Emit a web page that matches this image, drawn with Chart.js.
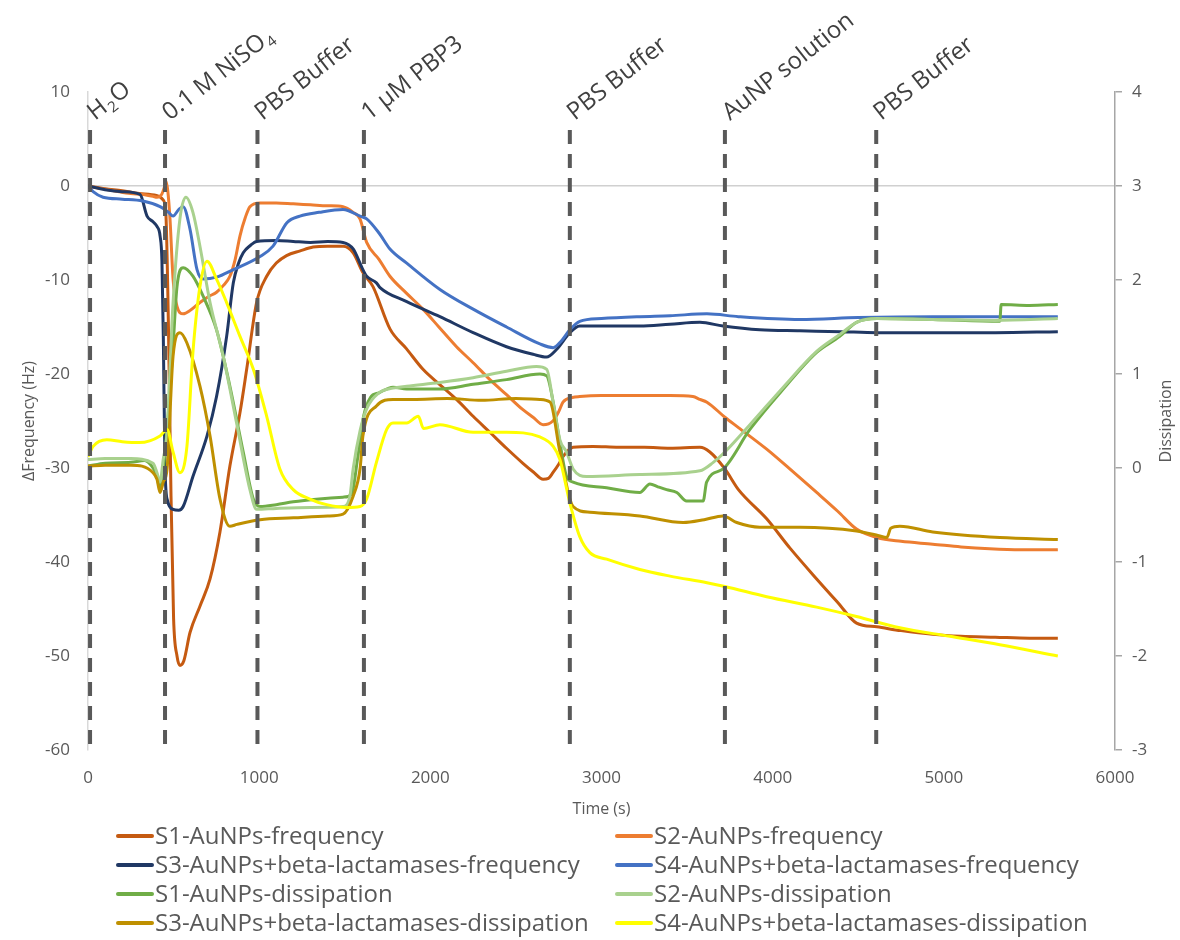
<!DOCTYPE html>
<html>
<head>
<meta charset="utf-8">
<script src="https://cdn.jsdelivr.net/npm/chart.js@4.4.1/dist/chart.umd.min.js"></script>
<style>
  html, body { margin: 0; padding: 0; background: #ffffff; }
  canvas { display: block; }
</style>
</head>
<body>
<canvas id="qcm" width="1180" height="940"></canvas>
<script>
// ---- Series names and colours (legend order) ----
const seriesNames = [
  'S1-AuNPs-frequency',
  'S2-AuNPs-frequency',
  'S3-AuNPs+beta-lactamases-frequency',
  'S4-AuNPs+beta-lactamases-frequency',
  'S1-AuNPs-dissipation',
  'S2-AuNPs-dissipation',
  'S3-AuNPs+beta-lactamases-dissipation',
  'S4-AuNPs+beta-lactamases-dissipation'
];
const seriesColors = ['#C55A11', '#ED7D31', '#203864', '#4472C4', '#70AD47', '#A9D18E', '#BF9000', '#FFFF00'];
const seriesAxis = ['y', 'y', 'y', 'y', 'y2', 'y2', 'y2', 'y2'];

// ---- Injection events (time in s) ----
const eventTimes = [12, 450, 990, 1612, 2815, 3721, 4605];
const eventLabels = ['H₂O', '0.1 M NiSO₄', 'PBS Buffer', '1 µM PBP3', 'PBS Buffer', 'AuNP solution', 'PBS Buffer'];

// ---- Axis ticks ----
const timeTicks = [0, 1000, 2000, 3000, 4000, 5000, 6000];
const freqTicks = [-60, -50, -40, -30, -20, -10, 0, 10];
const dissTicks = [-3, -2, -1, 0, 1, 2, 3, 4];

// ---- S1 frequency (Hz) ----
const s1FreqT = [0, 100, 200, 300, 400, 440, 455, 470, 485, 500, 520, 537, 560, 596, 654, 713, 771, 829, 888, 927, 985, 1044, 1100, 1160, 1240, 1315, 1400, 1490, 1549, 1606, 1665, 1764, 1860, 1957, 2060, 2153, 2250, 2348, 2445, 2541, 2600, 2659, 2690, 2716, 2750, 2775, 2834, 2950, 3100, 3250, 3400, 3575, 3633, 3721, 3800, 3965, 4100, 4257, 4380, 4490, 4609, 4750, 4935, 5100, 5300, 5500, 5666];
const s1FreqV = [0, -0.3, -0.5, -0.8, -1.0, -1.5, -3, -15, -33, -46, -50, -51, -50.5, -47.5, -44.7, -41.8, -36.8, -29.8, -24.1, -19.5, -12.4, -9.6, -8.2, -7.4, -6.9, -6.5, -6.4, -6.4, -7.1, -9.2, -10.7, -15.2, -17.3, -19.5, -21.2, -22.7, -24.5, -26.2, -27.9, -29.5, -30.4, -31.2, -31.1, -30.5, -29.6, -28.8, -27.8, -27.7, -27.8, -27.8, -27.9, -27.8, -28.3, -30.1, -32.3, -35.4, -38.5, -41.8, -44.3, -46.5, -46.9, -47.3, -47.7, -47.9, -48.0, -48.1, -48.1];

// ---- S2 frequency (Hz) ----
const s2FreqT = [0, 50, 150, 250, 321, 380, 403, 430, 445, 456, 466, 479, 497, 520, 556, 600, 654, 700, 751, 790, 829, 860, 888, 920, 946, 1005, 1100, 1199, 1300, 1400, 1490, 1549, 1589, 1628, 1700, 1764, 1860, 1957, 2050, 2153, 2250, 2348, 2445, 2541, 2600, 2659, 2716, 2750, 2775, 2830, 2873, 3000, 3200, 3400, 3534, 3575, 3616, 3721, 3800, 3965, 4100, 4257, 4380, 4490, 4609, 4750, 4935, 5100, 5268, 5450, 5666];
const s2FreqV = [0, -0.2, -0.5, -0.8, -0.9, -1.1, -1.2, -0.9, -0.2, 0.5, -0.5, -3.5, -9.9, -12.8, -13.6, -13.2, -12.4, -11.8, -11.3, -10.6, -9.6, -7.8, -5.3, -3.3, -2.2, -1.8, -1.8, -1.9, -2.0, -2.1, -2.2, -2.8, -3.5, -6.0, -7.8, -9.6, -11.4, -13.1, -15.0, -17.1, -18.8, -20.6, -22.2, -23.8, -24.6, -25.4, -25.0, -24.0, -23.0, -22.5, -22.4, -22.3, -22.3, -22.3, -22.4, -22.7, -23.0, -24.6, -25.7, -28.0, -30.1, -32.6, -34.6, -36.5, -37.4, -37.8, -38.1, -38.4, -38.6, -38.7, -38.7];

// ---- S3 frequency (Hz) ----
const s3FreqT = [0, 100, 200, 304, 345, 380, 403, 421, 432, 440, 450, 465, 497, 530, 556, 613, 695, 751, 810, 849, 880, 907, 950, 985, 1100, 1199, 1300, 1400, 1490, 1549, 1606, 1628, 1685, 1706, 1862, 2056, 2250, 2445, 2600, 2679, 2737, 2815, 2873, 3000, 3224, 3400, 3575, 3710, 3925, 4159, 4400, 4609, 4935, 5300, 5666];
const s3FreqV = [0, -0.4, -0.6, -0.9, -3.2, -3.8, -4.3, -5.3, -8, -16, -30.1, -33.5, -34.4, -34.5, -34.1, -30.9, -26.6, -22.4, -16, -10.3, -8.2, -7.1, -6.3, -5.9, -5.8, -5.9, -6.0, -5.9, -6.0, -6.7, -8.9, -9.6, -10.3, -10.8, -12.3, -13.9, -15.6, -17.1, -17.9, -18.2, -17.4, -15.6, -14.9, -14.9, -14.9, -14.7, -14.5, -14.9, -15.3, -15.4, -15.5, -15.6, -15.6, -15.6, -15.5];

// ---- S4 frequency (Hz) ----
const s4FreqT = [0, 30, 88, 200, 321, 421, 470, 497, 530, 556, 596, 637, 672, 751, 849, 1005, 1081, 1162, 1238, 1350, 1490, 1589, 1628, 1700, 1764, 1862, 2056, 2250, 2445, 2640, 2718, 2760, 2815, 2873, 3000, 3224, 3400, 3616, 3800, 4159, 4500, 4935, 5300, 5666];
const s4FreqV = [0, -0.6, -1.2, -1.4, -1.6, -2.2, -2.8, -3.2, -2.5, -2.2, -4.6, -8.9, -9.9, -9.7, -8.9, -7.5, -6.4, -3.9, -3.2, -2.8, -2.5, -3.2, -3.5, -5.0, -6.7, -8.2, -11.0, -13.1, -15.0, -16.8, -17.2, -16.6, -15.3, -14.4, -14.1, -13.9, -13.8, -13.6, -13.9, -14.2, -14.0, -13.9, -13.9, -13.9];

// ---- S1 dissipation ----
const s1DissT = [0, 100, 250, 330, 380, 403, 421, 440, 470, 497, 520, 556, 613, 672, 751, 829, 907, 966, 1005, 1100, 1199, 1350, 1490, 1540, 1575, 1610, 1650, 1700, 1782, 1862, 2056, 2250, 2445, 2640, 2680, 2718, 2757, 2796, 2834, 3030, 3224, 3283, 3330, 3380, 3440, 3497, 3594, 3614, 3710, 3867, 4062, 4257, 4392, 4490, 4609, 4935, 5327, 5335, 5500, 5666];
const s1DissV = [0.02, 0.05, 0.06, 0.08, 0.0, -0.09, -0.23, -0.01, 0.6, 1.3, 1.93, 2.13, 2.04, 1.83, 1.47, 0.87, 0.17, -0.33, -0.41, -0.39, -0.36, -0.33, -0.31, -0.28, 0.1, 0.55, 0.75, 0.8, 0.86, 0.84, 0.84, 0.89, 0.94, 1.0, 0.98, 0.70, 0.27, -0.09, -0.15, -0.21, -0.26, -0.17, -0.2, -0.23, -0.26, -0.35, -0.35, -0.15, -0.01, 0.41, 0.84, 1.23, 1.40, 1.55, 1.59, 1.58, 1.56, 1.74, 1.73, 1.74];

// ---- S2 dissipation ----
const s2DissT = [0, 100, 250, 380, 403, 421, 440, 460, 497, 537, 572, 613, 654, 713, 790, 868, 946, 985, 1100, 1300, 1490, 1530, 1549, 1590, 1628, 1700, 1782, 1862, 2056, 2250, 2445, 2620, 2680, 2718, 2757, 2796, 2834, 2912, 3224, 3575, 3653, 3721, 3867, 4062, 4257, 4392, 4490, 4609, 4935, 5300, 5666];
const s2DissV = [0.09, 0.1, 0.1, 0.05, -0.05, -0.15, 0.1, 0.34, 1.76, 2.65, 2.88, 2.72, 2.36, 1.76, 1.19, 0.48, -0.23, -0.44, -0.43, -0.42, -0.41, -0.3, -0.01, 0.4, 0.63, 0.80, 0.85, 0.87, 0.91, 0.96, 1.03, 1.08, 1.05, 0.69, 0.30, 0.17, -0.01, -0.09, -0.07, -0.03, 0.06, 0.17, 0.46, 0.86, 1.24, 1.42, 1.55, 1.59, 1.58, 1.57, 1.59];

// ---- S3 dissipation ----
const s3DissT = [0, 100, 250, 380, 403, 421, 440, 462, 497, 537, 578, 654, 713, 771, 829, 870, 1005, 1200, 1400, 1490, 1549, 1590, 1606, 1685, 1782, 1900, 2100, 2300, 2500, 2640, 2700, 2757, 2834, 2932, 3224, 3477, 3600, 3710, 3790, 3925, 4159, 4490, 4620, 4667, 4690, 4743, 4935, 5327, 5666];
const s3DissV = [0.02, 0.03, 0.03, -0.05, -0.12, -0.26, -0.15, -0.01, 1.19, 1.44, 1.33, 0.87, 0.34, -0.33, -0.62, -0.60, -0.55, -0.53, -0.51, -0.49, -0.30, 0.0, 0.34, 0.66, 0.73, 0.73, 0.74, 0.72, 0.74, 0.73, 0.70, 0.17, -0.41, -0.47, -0.51, -0.58, -0.55, -0.51, -0.58, -0.63, -0.63, -0.67, -0.72, -0.74, -0.64, -0.62, -0.68, -0.74, -0.76];

// ---- S4 dissipation ----
const s4DissT = [0, 30, 110, 200, 300, 421, 462, 497, 537, 578, 613, 654, 695, 751, 810, 888, 966, 1044, 1121, 1199, 1296, 1394, 1510, 1589, 1628, 1685, 1745, 1782, 1862, 1930, 1960, 2056, 2250, 2445, 2640, 2718, 2757, 2815, 2873, 2932, 3030, 3224, 3400, 3616, 3721, 3965, 4257, 4490, 4743, 5035, 5327, 5666];
const s4DissV = [0.12, 0.23, 0.30, 0.28, 0.27, 0.34, 0.41, 0.17, -0.05, 0.23, 1.23, 1.93, 2.20, 2.01, 1.76, 1.40, 1.05, 0.55, -0.01, -0.23, -0.33, -0.39, -0.42, -0.41, -0.33, 0.06, 0.41, 0.48, 0.48, 0.55, 0.42, 0.46, 0.38, 0.38, 0.33, 0.23, 0.09, -0.37, -0.73, -0.90, -0.97, -1.08, -1.15, -1.22, -1.26, -1.37, -1.48, -1.58, -1.70, -1.79, -1.88, -2.0];

const seriesT = [s1FreqT, s2FreqT, s3FreqT, s4FreqT, s1DissT, s2DissT, s3DissT, s4DissT];
const seriesV = [s1FreqV, s2FreqV, s3FreqV, s4FreqV, s1DissV, s2DissV, s3DissV, s4DissV];

const FONT = '"Open Sans", "Liberation Sans", sans-serif';
const TEXT_GREY = '#595959';

const datasets = seriesNames.map((name, i) => ({
  label: name,
  data: seriesT[i].map((t, k) => ({ x: t, y: seriesV[i][k] })),
  borderColor: seriesColors[i],
  backgroundColor: seriesColors[i],
  borderWidth: 3,
  pointRadius: 0,
  fill: false,
  tension: 0,
  cubicInterpolationMode: 'monotone',
  yAxisID: seriesAxis[i],
  order: seriesNames.length - i   // later series drawn on top
}));

// Draws text where the Unicode subscript digits are rendered as lowered small digits
const SUBS = { '₀': '0', '₁': '1', '₂': '2', '₃': '3', '₄': '4' };
function drawRichText(ctx, text, size) {
  let x = 0;
  let run = '';
  const flush = () => {
    if (!run) return;
    ctx.font = `${size}px ${FONT}`;
    ctx.fillText(run, x, 0);
    x += ctx.measureText(run).width;
    run = '';
  };
  for (const ch of text) {
    if (SUBS[ch]) {
      flush();
      ctx.font = `${Math.round(size * 0.62)}px ${FONT}`;
      ctx.fillText(SUBS[ch], x + 1, size * 0.2);
      x += ctx.measureText(SUBS[ch]).width + 2;
    } else {
      run += ch;
    }
  }
  flush();
}

// Injection markers, axis titles and the two-column legend
const decorations = {
  id: 'decorations',
  afterDatasetsDraw(chart) {
    const { ctx, chartArea, scales } = chart;
    // dashed event lines
    ctx.save();
    ctx.strokeStyle = '#595959';
    ctx.lineWidth = 4;
    ctx.setLineDash([14, 10]);
    eventTimes.forEach(t => {
      const x = scales.x.getPixelForValue(t);
      ctx.beginPath();
      ctx.moveTo(x, 130);
      ctx.lineTo(x, chartArea.bottom);
      ctx.stroke();
    });
    ctx.restore();

    // rotated event labels
    ctx.save();
    ctx.fillStyle = '#404040';
    ctx.textBaseline = 'alphabetic';
    ctx.textAlign = 'left';
    eventTimes.forEach((t, i) => {
      const x = scales.x.getPixelForValue(t);
      ctx.save();
      ctx.translate(x + 5, 121);
      ctx.rotate(-38 * Math.PI / 180);
      drawRichText(ctx, eventLabels[i], 24);
      ctx.restore();
    });
    ctx.restore();
  },
  afterDraw(chart) {
    const { ctx, chartArea } = chart;
    const midY = (chartArea.top + chartArea.bottom) / 2;
    ctx.save();
    ctx.fillStyle = TEXT_GREY;
    ctx.font = `16px ${FONT}`;
    ctx.textAlign = 'center';
    ctx.textBaseline = 'middle';
    // left axis title
    ctx.save();
    ctx.translate(29, midY);
    ctx.rotate(-Math.PI / 2);
    ctx.fillText('ΔFrequency (Hz)', 0, 0);
    ctx.restore();
    // right axis title
    ctx.save();
    ctx.translate(1166, midY);
    ctx.rotate(-Math.PI / 2);
    ctx.fillText('Dissipation', 0, 0);
    ctx.restore();
    // x axis title
    ctx.fillText('Time (s)', (chartArea.left + chartArea.right) / 2, 809);
    ctx.restore();

    // legend: two columns, four rows
    const colX = [118, 617];
    const rowY = [836, 865, 894, 923];
    ctx.save();
    ctx.font = `24px ${FONT}`;
    ctx.textBaseline = 'middle';
    ctx.textAlign = 'left';
    seriesNames.forEach((name, i) => {
      const x = colX[i % 2];
      const y = rowY[Math.floor(i / 2)];
      ctx.strokeStyle = seriesColors[i];
      ctx.lineWidth = 4;
      ctx.lineCap = 'round';
      ctx.beginPath();
      ctx.moveTo(x, y);
      ctx.lineTo(x + 34, y);
      ctx.stroke();
      ctx.fillStyle = TEXT_GREY;
      ctx.fillText(name, x + 37, y + 1);
    });
    ctx.restore();
  }
};

new Chart(document.getElementById('qcm'), {
  type: 'line',
  data: { datasets },
  options: {
    responsive: false,
    animation: false,
    layout: { padding: { top: 92, left: 0, right: 0, bottom: 0 } },
    plugins: { legend: { display: false }, tooltip: { enabled: false } },
    scales: {
      x: {
        type: 'linear',
        min: timeTicks[0],
        max: timeTicks[timeTicks.length - 1],
        afterBuildTicks: s => { s.ticks = timeTicks.map(v => ({ value: v })); },
        ticks: { color: TEXT_GREY, font: { family: FONT, size: 17 }, padding: 18, maxRotation: 0, callback: v => String(v) },
        grid: { display: false, drawTicks: false },
        border: { display: false },
        afterFit: s => { s.height = 190; }
      },
      y: {
        position: 'left',
        min: freqTicks[0],
        max: freqTicks[freqTicks.length - 1],
        afterBuildTicks: s => { s.ticks = freqTicks.map(v => ({ value: v })); },
        ticks: { color: TEXT_GREY, font: { family: FONT, size: 17 }, padding: 18, callback: v => String(v) },
        grid: {
          drawTicks: false,
          lineWidth: 1.5,
          color: c => (c.tick && c.tick.value === 0) ? '#D0D0D0' : 'rgba(0,0,0,0)'
        },
        border: { color: '#D9D9D9', width: 1.5 },
        afterFit: s => { s.width = 88; }
      },
      y2: {
        position: 'right',
        min: dissTicks[0],
        max: dissTicks[dissTicks.length - 1],
        afterBuildTicks: s => { s.ticks = dissTicks.map(v => ({ value: v })); },
        ticks: { color: TEXT_GREY, font: { family: FONT, size: 17 }, padding: 10, callback: v => String(v) },
        grid: { drawOnChartArea: false, color: '#A6A6A6', tickLength: 7, lineWidth: 1.5 },
        border: { color: '#A6A6A6', width: 1.5 },
        afterFit: s => { s.width = 65; }
      }
    }
  },
  plugins: [decorations]
});
</script>
</body>
</html>
